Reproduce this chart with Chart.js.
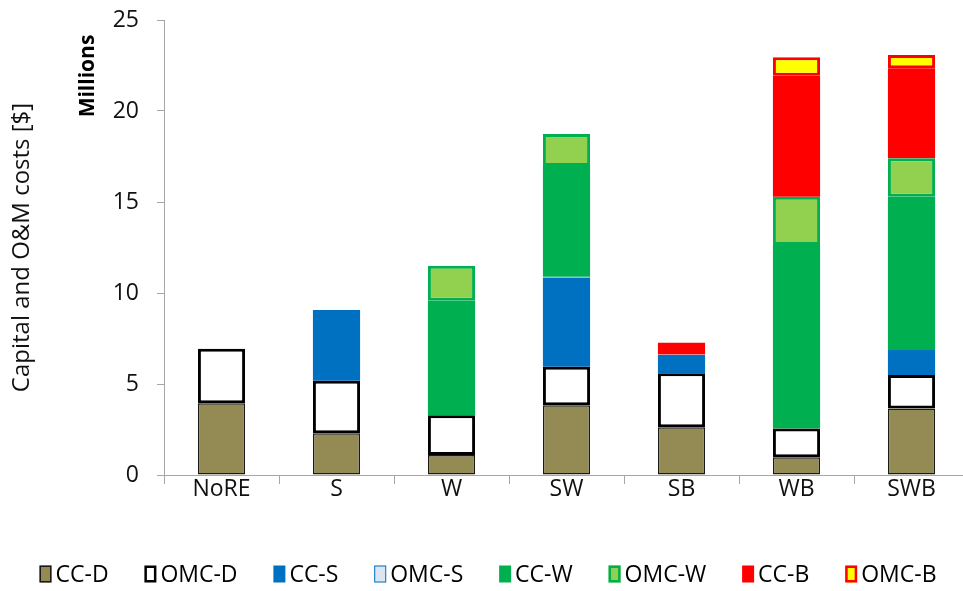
<!DOCTYPE html>
<html>
<head>
<meta charset="utf-8">
<script src="https://cdn.jsdelivr.net/npm/chart.js@4.4.1/dist/chart.umd.min.js"></script>
<style>
  html, body { margin: 0; padding: 0; background: #fff; overflow: hidden; }
  #wrap { width: 976px; height: 591px; }
</style>
</head>
<body>
<div id="wrap"><canvas id="c" width="976" height="591"></canvas></div>
<script>
// Scenarios on the x axis
const categories = ['NoRE', 'S', 'W', 'SW', 'SB', 'WB', 'SWB'];

// Cost components, millions of dollars
const ccD  = [3.94, 2.29, 1.10, 3.83, 2.62, 0.97, 3.66];
const omcD = [3.00, 2.89, 2.18, 2.12, 2.97, 1.59, 1.83];
const ccS  = [0,    3.89, 0,    4.89, 1.00, 0,    1.38];
const omcS = [0,    0,    0,    0.05, 0.03, 0,    0];
const ccW  = [0,    0,    6.30, 6.09, 0,    10.08, 8.42];
const omcW = [0,    0,    1.92, 1.76, 0,    2.65, 2.11];
const ccB  = [0,    0,    0,    0,    0.65, 6.65, 4.95];
const omcB = [0,    0,    0,    0,    0,    1.01, 0.73];

const yTicks = [0, 5, 10, 15, 20, 25];

const FONT = '"Open Sans", "Liberation Sans", sans-serif';

function series(label, data, fill, border, width) {
  return {
    label, data,
    backgroundColor: fill,
    borderColor: border,
    borderWidth: width,
    borderSkipped: false,
    barPercentage: 0.41,
    categoryPercentage: 1.0
  };
}

const datasets = [
  series('CC-D',  ccD,  '#948A54', '#1a1a1a', 1.5),
  series('OMC-D', omcD, '#FFFFFF', '#000000', 3),
  series('CC-S',  ccS,  '#0070C0', '#0070C0', 0),
  series('OMC-S', omcS, '#DCE6F2', '#8DB4E2', 1),
  series('CC-W',  ccW,  '#00B050', '#00B050', 0),
  series('OMC-W', omcW, '#92D050', '#00B050', 3),
  series('CC-B',  ccB,  '#FF0000', '#FF0000', 0),
  series('OMC-B', omcB, '#FFFF00', '#FF0000', 3)
];

// Legend row along the bottom, centred under the canvas
const bottomLegend = {
  id: 'bottomLegend',
  afterDraw(chart) {
    const ctx = chart.ctx;
    ctx.save();
    ctx.font = '23px ' + FONT;
    const boxW = 12, boxH = 17, gap = 4, span = 897;
    const dsets = chart.data.datasets;
    const widths = dsets.map(d => boxW + gap + ctx.measureText(d.label).width);
    const total = widths.reduce((a, b) => a + b, 0);
    const spacing = (span - total) / (dsets.length - 1);
    let x = chart.width / 2 - span / 2;
    const cy = 574;
    dsets.forEach((d, i) => {
      ctx.fillStyle = d.backgroundColor;
      ctx.fillRect(x, cy - boxH / 2, boxW, boxH);
      if (d.borderWidth > 0) {
        const lw = Math.min(d.borderWidth, 2.5);
        ctx.lineWidth = lw;
        ctx.strokeStyle = d.label === 'OMC-S' ? '#0070C0' : d.borderColor;
        ctx.strokeRect(x + lw / 2, cy - boxH / 2 + lw / 2, boxW - lw, boxH - lw);
      }
      ctx.fillStyle = '#000';
      ctx.textAlign = 'left';
      ctx.textBaseline = 'middle';
      ctx.fillText(d.label, x + boxW + gap, cy + 1);
      x += widths[i] + spacing;
    });
    ctx.restore();
  }
};

// Bold unit note beside the value axis
const unitNote = {
  id: 'unitNote',
  afterDraw(chart) {
    const ctx = chart.ctx;
    ctx.save();
    ctx.translate(88, 76);
    ctx.rotate(-Math.PI / 2);
    ctx.font = 'bold 21px ' + FONT;
    ctx.fillStyle = '#000';
    ctx.textAlign = 'center';
    ctx.textBaseline = 'middle';
    ctx.fillText('Millions', 0, 0);
    ctx.restore();
  }
};

new Chart(document.getElementById('c'), {
  type: 'bar',
  data: { labels: categories, datasets },
  options: {
    responsive: false,
    animation: false,
    devicePixelRatio: 1,
    layout: { padding: { top: 20, right: 7, bottom: 60, left: 0 } },
    plugins: {
      legend: { display: false },
      tooltip: { enabled: false }
    },
    scales: {
      x: {
        stacked: true,
        grid: { drawOnChartArea: false, drawTicks: true, tickLength: 9, color: '#A6A6A6', offset: true },
        border: { color: '#A6A6A6', width: 1 },
        ticks: { color: '#111', font: { family: FONT, size: 23 }, padding: -8, maxRotation: 0 },
        afterFit(scale) {
          scale.height = 56;
          scale.paddingLeft = 0; scale.paddingRight = 0;
        }
      },
      y: {
        stacked: true,
        min: 0, max: 25,
        afterBuildTicks(scale) { scale.ticks = yTicks.map(v => ({ value: v })); },
        grid: { drawOnChartArea: false, drawTicks: true, tickLength: 7, color: '#A6A6A6' },
        border: { color: '#A6A6A6', width: 1 },
        ticks: { color: '#111', font: { family: FONT, size: 23 }, padding: 18 },
        title: {
          display: true,
          text: 'Capital and O&M costs [$]',
          color: '#111',
          font: { family: FONT, size: 24 },
          padding: { top: 8, bottom: 0 }
        },
        afterFit(scale) {
          scale.width = 164;
          scale.paddingTop = 0; scale.paddingBottom = 0;
        }
      }
    }
  },
  plugins: [bottomLegend, unitNote]
});
</script>
</body>
</html>
